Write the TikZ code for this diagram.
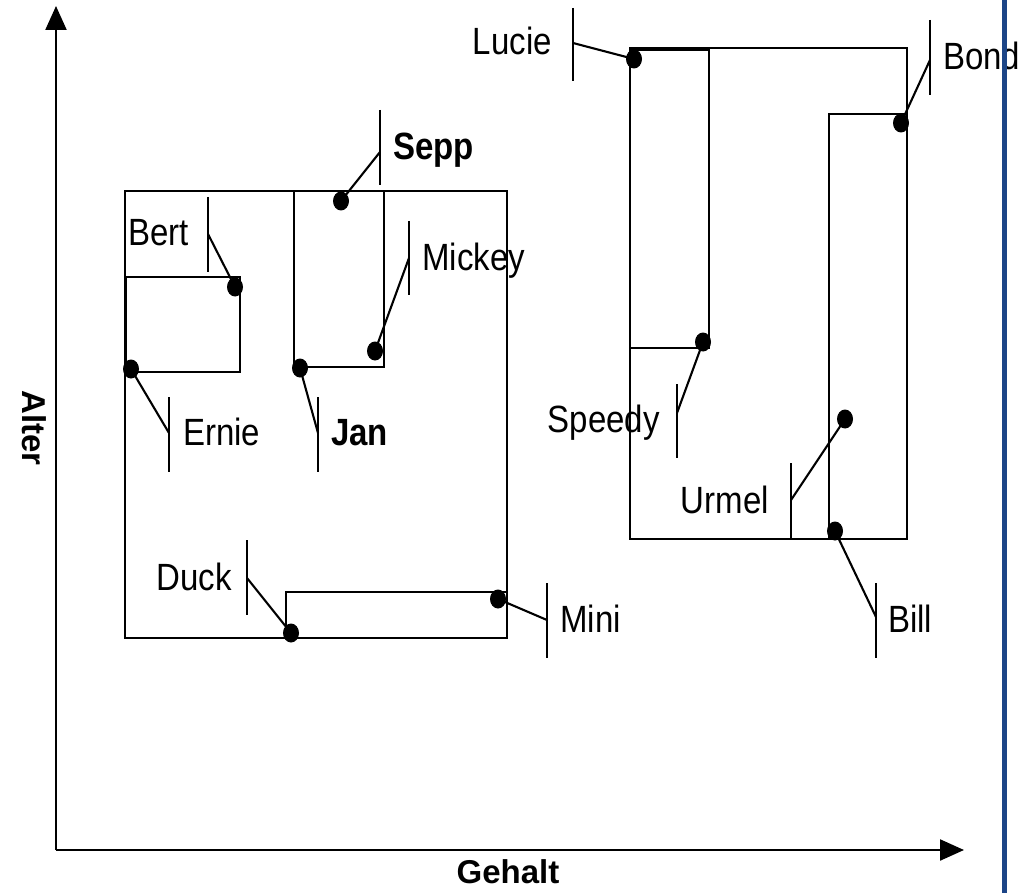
\documentclass[tikz,border=0pt]{standalone}
\usepackage{fontspec}
\setmainfont{Liberation Sans}
\usetikzlibrary{arrows.meta,shapes.geometric}
\definecolor{sepblue}{RGB}{28,69,135}
\newcommand\tallt[1]{\scalebox{1}[1.15]{#1}}
\begin{document}
\begin{tikzpicture}[x=1pt,y=-1pt,
  ln/.style={line width=2.3pt,line cap=rect},
  leader/.style={line width=2.1pt},
  tick/.style={line width=2.1pt},
  dot/.style={ellipse,fill=black,minimum width=16pt,minimum height=19pt,inner sep=0pt},
  lbl/.style={inner sep=0pt,font=\fontsize{33}{40}\selectfont},
  blbl/.style={inner sep=0pt,font=\fontsize{33}{40}\selectfont\bfseries},
  axis/.style={line width=2.3pt,-{Triangle[length=24pt,width=21pt]}}]
\useasboundingbox (0,0) rectangle (1019,893);
% axes
\coordinate (O) at (56,850);
\coordinate (ytop) at (56,6);
\coordinate (xend) at (964,850);
\draw[axis] (O) -- (ytop);
\draw[axis] (O) -- (xend);
\node[blbl,rotate=-90] (alter) at (34,428) {Alter};
\node[blbl,anchor=base] (gehalt) at (508,883) {Gehalt};
% left group rectangles
\draw[ln] (125,191) rectangle (507,638);
\draw[ln] (126,277) rectangle (240,372);
\draw[ln] (294,191) rectangle (384,367);
\draw[ln] (286,592) rectangle (507,638);
% right group rectangles
\draw[ln] (630,48) rectangle (907,539);
\draw[ln] (630,50) rectangle (709,348);
\draw[ln] (829,114) rectangle (907,539);
% dots
\node[dot] (dLucie) at (634,59) {};
\node[dot] (dBond) at (901,123) {};
\node[dot] (dSepp) at (341,201) {};
\node[dot] (dBert) at (235,287) {};
\node[dot] (dMickey) at (375,351) {};
\node[dot] (dJan) at (300,368) {};
\node[dot] (dErnie) at (131,369) {};
\node[dot] (dSpeedy) at (703,342) {};
\node[dot] (dUrmel) at (845,419) {};
\node[dot] (dBill) at (835,531) {};
\node[dot] (dDuck) at (291,633) {};
\node[dot] (dMini) at (498,599) {};
% ticks with leader points
\draw[tick] (573,8) -- (573,81);   \coordinate (lLucie) at (573,43);
\draw[tick] (930,20) -- (930,95);  \coordinate (lBond) at (930,60);
\draw[tick] (380,110) -- (380,185);\coordinate (lSepp) at (380,152);
\draw[tick] (208,197) -- (208,272);\coordinate (lBert) at (208,234);
\draw[tick] (409,221) -- (409,295);\coordinate (lMickey) at (409,258);
\draw[tick] (318,397) -- (318,472);\coordinate (lJan) at (318,433);
\draw[tick] (169,397) -- (169,472);\coordinate (lErnie) at (169,433);
\draw[tick] (677,384) -- (677,458);\coordinate (lSpeedy) at (677,413);
\draw[tick] (791,463) -- (791,539);\coordinate (lUrmel) at (791,500);
\draw[tick] (876,583) -- (876,658);\coordinate (lBill) at (876,617);
\draw[tick] (547,583) -- (547,658);\coordinate (lMini) at (547,620);
\draw[tick] (247,540) -- (247,615);\coordinate (lDuck) at (247,578);
% leaders
\draw[leader] (lLucie) -- (dLucie.center);
\draw[leader] (lBond) -- (dBond.center);
\draw[leader] (lSepp) -- (dSepp.center);
\draw[leader] (lBert) -- (dBert.center);
\draw[leader] (lMickey) -- (dMickey.center);
\draw[leader] (lJan) -- (dJan.center);
\draw[leader] (lErnie) -- (dErnie.center);
\draw[leader] (lSpeedy) -- (dSpeedy.center);
\draw[leader] (lUrmel) -- (dUrmel.center);
\draw[leader] (lBill) -- (dBill.center);
\draw[leader] (lMini) -- (dMini.center);
\draw[leader] (lDuck) -- (dDuck.center);
% labels
\node[lbl,anchor=base east] (tLucie) at (552,55) {\tallt{Lucie}};
\node[lbl,anchor=base west] (tBond) at (943,70) {\tallt{Bond}};
\node[blbl,anchor=base west] (tSepp) at (393,160) {\tallt{Sepp}};
\node[lbl,anchor=base east] (tBert) at (189,245) {\tallt{Bert}};
\node[lbl,anchor=base west] (tMickey) at (422,270) {\tallt{Mickey}};
\node[lbl,anchor=base west] (tErnie) at (183,445) {\tallt{Ernie}};
\node[blbl,anchor=base west] (tJan) at (331,445) {\tallt{Jan}};
\node[lbl,anchor=base east] (tSpeedy) at (660,432) {\tallt{Speedy}};
\node[lbl,anchor=base east] (tUrmel) at (769,513) {\tallt{Urmel}};
\node[lbl,anchor=base west] (tMini) at (560,632) {\tallt{Mini}};
\node[lbl,anchor=base west] (tBill) at (888,632) {\tallt{Bill}};
\node[lbl,anchor=base east] (tDuck) at (232,590) {\tallt{Duck}};
% blue separator
\draw[sepblue,line width=5pt] (1004,0) -- (1004,893);
\end{tikzpicture}
\end{document}
